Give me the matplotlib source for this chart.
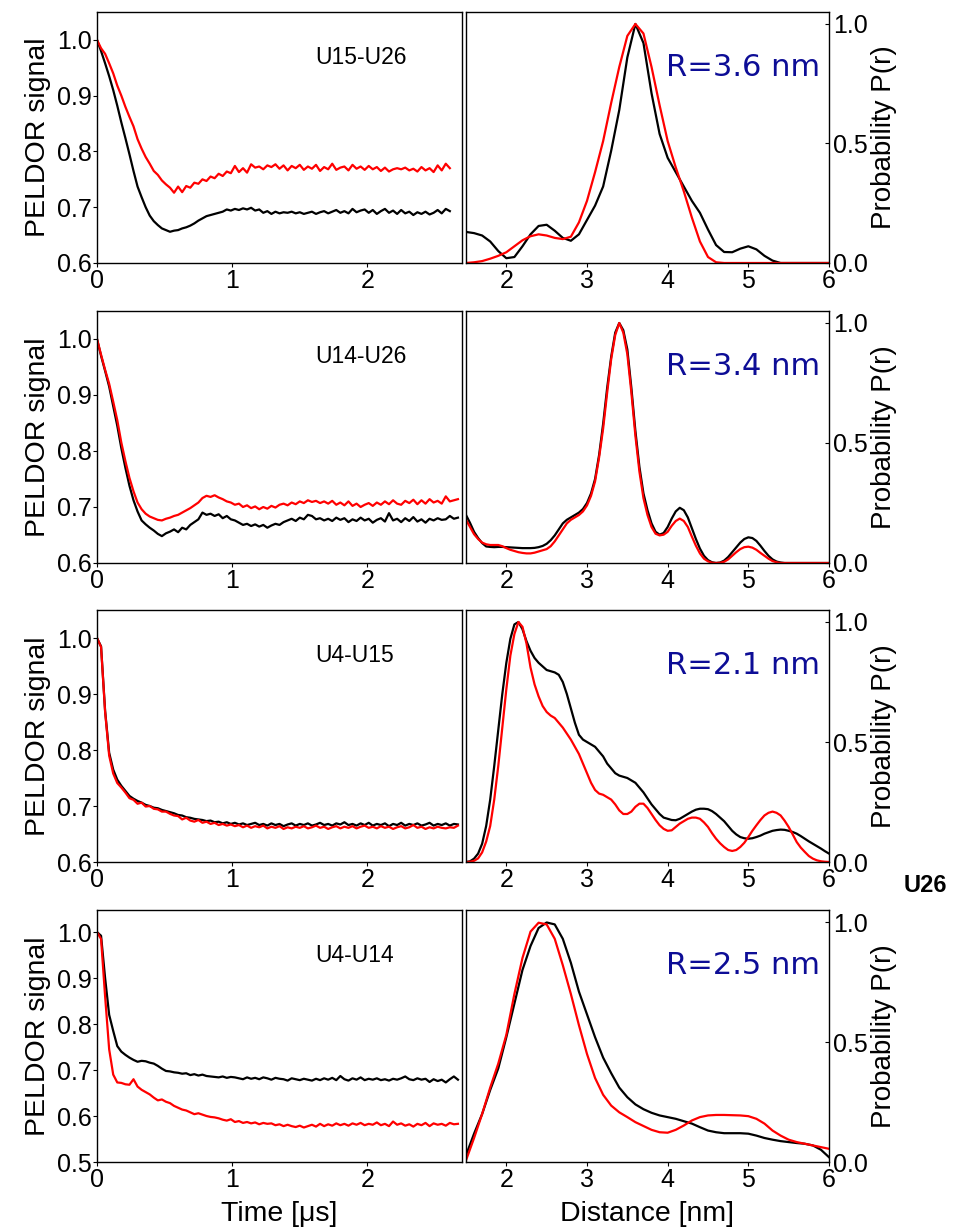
#!/usr/bin/env python

"""
PELDOR time traces and distance distributions for four spin-label pairs.
"""

import numpy as np
import matplotlib.pyplot as plt

# time axis of the PELDOR traces (us)
time_us = np.round(np.arange(0, 2.68, 0.03), 2)
# distance axes of the distributions (nm)
dist_coarse = np.round(np.arange(1.5, 6.01, 0.1), 2)
dist_fine = np.round(np.arange(1.5, 6.001, 0.05), 2)

pairs = ["U15-U26", "U14-U26", "U4-U15", "U4-U14"]
mean_dist = ["R=3.6 nm", "R=3.4 nm", "R=2.1 nm", "R=2.5 nm"]

# PELDOR signal, black and red traces
sig_u15_u26_black = [
    1.000, 0.980, 0.958, 0.935, 0.910, 0.882, 0.852, 0.824, 0.795, 0.765,
    0.737, 0.718, 0.700, 0.685, 0.675, 0.668, 0.662, 0.659, 0.656, 0.658,
    0.659, 0.662, 0.664, 0.667, 0.671, 0.676, 0.680, 0.684, 0.686, 0.688,
    0.690, 0.692, 0.696, 0.694, 0.697, 0.695, 0.698, 0.696, 0.699, 0.694,
    0.696, 0.690, 0.693, 0.688, 0.692, 0.689, 0.691, 0.690, 0.692, 0.689,
    0.691, 0.688, 0.690, 0.692, 0.688, 0.691, 0.693, 0.689, 0.692, 0.695,
    0.690, 0.693, 0.689, 0.697, 0.691, 0.694, 0.696, 0.690, 0.695, 0.688,
    0.693, 0.697, 0.690, 0.694, 0.688, 0.695, 0.689, 0.692, 0.686, 0.691,
    0.688, 0.692, 0.687, 0.690, 0.695, 0.689, 0.697, 0.693]
sig_u15_u26_red = [
    1.000, 0.985, 0.975, 0.958, 0.940, 0.918, 0.900, 0.880, 0.862, 0.845,
    0.822, 0.805, 0.790, 0.778, 0.765, 0.758, 0.748, 0.741, 0.735, 0.726,
    0.737, 0.727, 0.738, 0.735, 0.744, 0.742, 0.750, 0.747, 0.755, 0.752,
    0.760, 0.756, 0.764, 0.761, 0.774, 0.763, 0.770, 0.762, 0.777, 0.771,
    0.773, 0.768, 0.775, 0.772, 0.777, 0.769, 0.775, 0.766, 0.774, 0.770,
    0.776, 0.767, 0.773, 0.769, 0.776, 0.765, 0.772, 0.768, 0.778, 0.767,
    0.771, 0.773, 0.766, 0.776, 0.769, 0.773, 0.767, 0.774, 0.768, 0.772,
    0.765, 0.771, 0.764, 0.768, 0.770, 0.768, 0.771, 0.766, 0.769, 0.764,
    0.772, 0.766, 0.770, 0.763, 0.775, 0.766, 0.778, 0.770]

sig_u14_u26_black = [
    1.000, 0.970, 0.943, 0.915, 0.880, 0.845, 0.805, 0.770, 0.738, 0.712,
    0.692, 0.676, 0.669, 0.663, 0.658, 0.652, 0.648, 0.653, 0.656, 0.660,
    0.655, 0.663, 0.660, 0.668, 0.673, 0.678, 0.690, 0.686, 0.688, 0.684,
    0.687, 0.680, 0.684, 0.678, 0.676, 0.672, 0.668, 0.670, 0.666, 0.669,
    0.665, 0.668, 0.663, 0.667, 0.670, 0.668, 0.673, 0.676, 0.679, 0.675,
    0.681, 0.678, 0.686, 0.684, 0.678, 0.680, 0.676, 0.679, 0.675, 0.681,
    0.677, 0.680, 0.673, 0.678, 0.675, 0.681, 0.676, 0.679, 0.672, 0.677,
    0.680, 0.674, 0.689, 0.676, 0.679, 0.673, 0.680, 0.675, 0.682, 0.674,
    0.678, 0.672, 0.679, 0.676, 0.680, 0.677, 0.678, 0.684, 0.679, 0.681]
sig_u14_u26_red = [
    1.000, 0.972, 0.945, 0.920, 0.888, 0.855, 0.815, 0.782, 0.752, 0.728,
    0.708, 0.696, 0.688, 0.683, 0.680, 0.677, 0.676, 0.679, 0.681, 0.684,
    0.686, 0.690, 0.694, 0.698, 0.703, 0.708, 0.716, 0.720, 0.718, 0.721,
    0.717, 0.714, 0.710, 0.708, 0.704, 0.706, 0.700, 0.703, 0.698, 0.701,
    0.696, 0.700, 0.697, 0.702, 0.699, 0.704, 0.706, 0.703, 0.708, 0.705,
    0.710, 0.707, 0.712, 0.709, 0.711, 0.707, 0.710, 0.706, 0.711, 0.704,
    0.708, 0.703, 0.710, 0.702, 0.706, 0.700, 0.704, 0.707, 0.702, 0.708,
    0.704, 0.710, 0.705, 0.712, 0.706, 0.704, 0.711, 0.707, 0.713, 0.705,
    0.712, 0.706, 0.714, 0.708, 0.711, 0.706, 0.719, 0.710, 0.712, 0.714]

sig_u4_u15_black = [
    1.000, 0.985, 0.870, 0.795, 0.765, 0.747, 0.736, 0.727, 0.718, 0.713,
    0.709, 0.706, 0.702, 0.700, 0.697, 0.696, 0.693, 0.691, 0.689, 0.687,
    0.684, 0.683, 0.680, 0.679, 0.677, 0.676, 0.675, 0.673, 0.674, 0.671,
    0.672, 0.669, 0.671, 0.668, 0.670, 0.667, 0.669, 0.666, 0.668, 0.670,
    0.666, 0.668, 0.665, 0.669, 0.666, 0.668, 0.664, 0.667, 0.669, 0.665,
    0.668, 0.666, 0.669, 0.665, 0.667, 0.670, 0.666, 0.668, 0.665, 0.669,
    0.667, 0.671, 0.666, 0.668, 0.665, 0.669, 0.666, 0.670, 0.665, 0.668,
    0.666, 0.669, 0.664, 0.668, 0.666, 0.670, 0.665, 0.668, 0.666, 0.669,
    0.665, 0.667, 0.670, 0.665, 0.668, 0.666, 0.669, 0.665, 0.668, 0.667]
sig_u4_u15_red = [
    1.000, 0.984, 0.868, 0.790, 0.758, 0.741, 0.733, 0.724, 0.714, 0.711,
    0.704, 0.706, 0.699, 0.700, 0.695, 0.694, 0.690, 0.690, 0.686, 0.683,
    0.682, 0.676, 0.679, 0.674, 0.672, 0.675, 0.670, 0.672, 0.668, 0.670,
    0.666, 0.668, 0.665, 0.667, 0.664, 0.666, 0.662, 0.665, 0.661, 0.664,
    0.662, 0.665, 0.660, 0.663, 0.661, 0.664, 0.659, 0.662, 0.660, 0.663,
    0.661, 0.664, 0.660, 0.662, 0.665, 0.661, 0.663, 0.659, 0.662, 0.664,
    0.660, 0.663, 0.661, 0.664, 0.660, 0.663, 0.665, 0.661, 0.663, 0.660,
    0.664, 0.661, 0.663, 0.659, 0.662, 0.664, 0.660, 0.662, 0.666, 0.661,
    0.663, 0.659, 0.662, 0.660, 0.663, 0.661, 0.660, 0.662, 0.661, 0.665]

sig_u4_u14_black = [
    1.000, 0.992, 0.900, 0.820, 0.785, 0.752, 0.740, 0.733, 0.727, 0.722,
    0.718, 0.720, 0.719, 0.716, 0.714, 0.709, 0.703, 0.698, 0.697, 0.695,
    0.694, 0.692, 0.693, 0.689, 0.691, 0.688, 0.690, 0.687, 0.686, 0.685,
    0.684, 0.686, 0.683, 0.685, 0.684, 0.682, 0.680, 0.684, 0.681, 0.683,
    0.680, 0.684, 0.682, 0.679, 0.683, 0.681, 0.680, 0.677, 0.682, 0.680,
    0.678, 0.681, 0.679, 0.677, 0.681, 0.678, 0.682, 0.679, 0.683, 0.678,
    0.687, 0.680, 0.677, 0.682, 0.679, 0.684, 0.678, 0.681, 0.679, 0.682,
    0.678, 0.680, 0.677, 0.681, 0.679, 0.682, 0.686, 0.680, 0.678, 0.682,
    0.679, 0.681, 0.674, 0.680, 0.676, 0.679, 0.673, 0.680, 0.686, 0.679]
sig_u4_u14_red = [
    1.000, 0.985, 0.860, 0.745, 0.690, 0.673, 0.672, 0.669, 0.668, 0.680,
    0.664, 0.657, 0.652, 0.647, 0.640, 0.634, 0.636, 0.631, 0.628, 0.622,
    0.618, 0.614, 0.612, 0.608, 0.604, 0.606, 0.603, 0.600, 0.598, 0.597,
    0.595, 0.592, 0.590, 0.593, 0.587, 0.589, 0.585, 0.587, 0.584, 0.586,
    0.582, 0.585, 0.583, 0.584, 0.580, 0.582, 0.578, 0.581, 0.578, 0.576,
    0.579, 0.575, 0.578, 0.581, 0.577, 0.583, 0.578, 0.582, 0.579, 0.584,
    0.580, 0.583, 0.579, 0.584, 0.581, 0.585, 0.580, 0.583, 0.581, 0.586,
    0.580, 0.583, 0.578, 0.588, 0.581, 0.584, 0.579, 0.582, 0.577, 0.583,
    0.580, 0.585, 0.578, 0.584, 0.581, 0.583, 0.579, 0.585, 0.582, 0.583]

# distance distributions P(r), black and red
# U15-U26 and U4-U14 on the 0.1 nm grid
p_u15_u26_black = [
    0.13, 0.125, 0.115, 0.09, 0.05, 0.02, 0.025, 0.07, 0.12, 0.155,
    0.16, 0.135, 0.105, 0.093, 0.12, 0.18, 0.24, 0.32, 0.47, 0.64,
    0.86, 1.0, 0.92, 0.71, 0.54, 0.44, 0.38, 0.32, 0.26, 0.21,
    0.14, 0.075, 0.046, 0.045, 0.06, 0.07, 0.057, 0.03, 0.01, 0.0,
    0.0, 0.0, 0.0, 0.0, 0.0, 0.0]
p_u15_u26_red = [
    0.0, 0.003, 0.008, 0.018, 0.03, 0.045, 0.07, 0.095, 0.112, 0.12,
    0.115, 0.105, 0.1, 0.11, 0.17, 0.26, 0.38, 0.51, 0.67, 0.82,
    0.95, 1.0, 0.96, 0.82, 0.66, 0.51, 0.4, 0.3, 0.19, 0.09,
    0.025, 0.003, 0.0, 0.0, 0.0, 0.0, 0.0, 0.0, 0.0, 0.0,
    0.0, 0.0, 0.0, 0.0, 0.0, 0.0]

p_u4_u14_black = [
    0.028, 0.118, 0.2, 0.3, 0.39, 0.52, 0.66, 0.8, 0.9, 0.975,
    0.998, 0.99, 0.93, 0.83, 0.71, 0.615, 0.52, 0.435, 0.37, 0.31,
    0.27, 0.24, 0.22, 0.205, 0.194, 0.187, 0.18, 0.17, 0.16, 0.145,
    0.131, 0.124, 0.12, 0.12, 0.12, 0.118, 0.11, 0.1, 0.093, 0.087,
    0.083, 0.079, 0.076, 0.069, 0.051, 0.02]
p_u4_u14_red = [
    0.007, 0.1, 0.2, 0.31, 0.41, 0.53, 0.7, 0.85, 0.96, 0.997,
    0.99, 0.93, 0.82, 0.7, 0.57, 0.45, 0.35, 0.28, 0.235, 0.207,
    0.187, 0.166, 0.15, 0.134, 0.124, 0.122, 0.134, 0.152, 0.173, 0.187,
    0.194, 0.196, 0.196, 0.195, 0.194, 0.191, 0.18, 0.16, 0.131, 0.11,
    0.093, 0.083, 0.076, 0.069, 0.062, 0.055]

# U14-U26 and U4-U15 on the 0.05 nm grid
p_u14_u26_black = [
    0.2, 0.167, 0.13, 0.104, 0.083, 0.069, 0.067, 0.066, 0.067, 0.067,
    0.066, 0.065, 0.064, 0.063, 0.062, 0.062, 0.062, 0.063, 0.066, 0.071,
    0.08, 0.095, 0.115, 0.14, 0.165, 0.18, 0.19, 0.2, 0.21, 0.225,
    0.25, 0.29, 0.35, 0.45, 0.58, 0.73, 0.86, 0.96, 1.0, 0.97,
    0.89, 0.73, 0.55, 0.4, 0.29, 0.22, 0.165, 0.13, 0.118, 0.125,
    0.15, 0.185, 0.215, 0.23, 0.22, 0.19, 0.145, 0.1, 0.06, 0.03,
    0.012, 0.003, 0.0, 0.002, 0.01, 0.025, 0.045, 0.065, 0.085, 0.1,
    0.107, 0.104, 0.092, 0.072, 0.05, 0.03, 0.015, 0.006, 0.002, 0.0,
    0.0, 0.0, 0.0, 0.0, 0.0, 0.0, 0.0, 0.0, 0.0, 0.0,
    0.0]
p_u14_u26_red = [
    0.18, 0.15, 0.12, 0.1, 0.085, 0.078, 0.075, 0.075, 0.075, 0.07,
    0.062, 0.055, 0.05, 0.045, 0.042, 0.04, 0.04, 0.043, 0.048, 0.053,
    0.058, 0.07, 0.09, 0.115, 0.14, 0.165, 0.18, 0.19, 0.2, 0.215,
    0.24, 0.28, 0.34, 0.44, 0.56, 0.71, 0.85, 0.95, 1.0, 0.96,
    0.87, 0.71, 0.53, 0.38, 0.27, 0.2, 0.15, 0.122, 0.115, 0.118,
    0.13, 0.155, 0.175, 0.185, 0.175, 0.15, 0.11, 0.072, 0.04, 0.018,
    0.007, 0.001, 0.0, 0.001, 0.005, 0.015, 0.03, 0.045, 0.058, 0.066,
    0.068, 0.064, 0.055, 0.042, 0.03, 0.018, 0.008, 0.003, 0.0, 0.0,
    0.0, 0.0, 0.0, 0.0, 0.0, 0.0, 0.0, 0.0, 0.0, 0.0,
    0.0]

p_u4_u15_black = [
    0.0, 0.003, 0.014, 0.035, 0.076, 0.15, 0.26, 0.4, 0.55, 0.7,
    0.83, 0.93, 0.99, 1.0, 0.97, 0.92, 0.88, 0.85, 0.83, 0.815,
    0.8, 0.795, 0.79, 0.78, 0.75, 0.7, 0.64, 0.58, 0.53, 0.51,
    0.5, 0.49, 0.48, 0.46, 0.44, 0.41, 0.39, 0.37, 0.36, 0.355,
    0.35, 0.34, 0.33, 0.31, 0.29, 0.265, 0.24, 0.22, 0.2, 0.185,
    0.18, 0.175, 0.174, 0.18, 0.19, 0.2, 0.21, 0.218, 0.222, 0.222,
    0.22, 0.212, 0.2, 0.185, 0.17, 0.15, 0.13, 0.115, 0.104, 0.099,
    0.097, 0.099, 0.104, 0.11, 0.118, 0.124, 0.13, 0.133, 0.135, 0.134,
    0.13, 0.125, 0.118, 0.108, 0.097, 0.086, 0.076, 0.066, 0.056, 0.045,
    0.035]
p_u4_u15_red = [
    0.0, 0.001, 0.005, 0.015, 0.04, 0.085, 0.15, 0.26, 0.4, 0.56,
    0.72, 0.86, 0.95, 1.0, 0.98, 0.91, 0.81, 0.74, 0.69, 0.65,
    0.625, 0.61, 0.6, 0.58, 0.56, 0.535, 0.51, 0.48, 0.45, 0.41,
    0.37, 0.33, 0.3, 0.285, 0.28, 0.27, 0.26, 0.24, 0.215, 0.2,
    0.2, 0.21, 0.23, 0.243, 0.243, 0.225, 0.2, 0.175, 0.153, 0.138,
    0.13, 0.132, 0.146, 0.16, 0.17, 0.18, 0.185, 0.185, 0.18, 0.165,
    0.146, 0.12, 0.097, 0.078, 0.0625, 0.05, 0.046, 0.05, 0.0625, 0.08,
    0.104, 0.13, 0.153, 0.175, 0.194, 0.205, 0.21, 0.205, 0.194, 0.172,
    0.146, 0.115, 0.083, 0.06, 0.042, 0.025, 0.014, 0.007, 0.003, 0.001,
    0.0]

signals = [
    (sig_u15_u26_black, sig_u15_u26_red),
    (sig_u14_u26_black, sig_u14_u26_red),
    (sig_u4_u15_black, sig_u4_u15_red),
    (sig_u4_u14_black, sig_u4_u14_red),
]
distributions = [
    (dist_coarse, p_u15_u26_black, p_u15_u26_red),
    (dist_fine, p_u14_u26_black, p_u14_u26_red),
    (dist_fine, p_u4_u15_black, p_u4_u15_red),
    (dist_coarse, p_u4_u14_black, p_u4_u14_red),
]
signal_ylims = [(0.6, 1.05), (0.6, 1.05), (0.6, 1.05), (0.5, 1.048)]
signal_yticks = [
    [0.6, 0.7, 0.8, 0.9, 1.0],
    [0.6, 0.7, 0.8, 0.9, 1.0],
    [0.6, 0.7, 0.8, 0.9, 1.0],
    [0.5, 0.6, 0.7, 0.8, 0.9, 1.0],
]


def main():
    plt.rcParams['font.family'] = ['Liberation Sans', 'DejaVu Sans']
    fig = plt.figure(figsize=(9.58, 12.29), dpi=100)

    W, H = 958.0, 1229.0
    row_px = [(12, 263), (311, 563), (610, 862), (910, 1162)]
    lw = 1.6

    for i, (top, bot) in enumerate(row_px):
        y0 = 1 - bot / H
        h = (bot - top) / H
        ax_l = fig.add_axes([97 / W, y0, (462 - 97) / W, h])
        ax_r = fig.add_axes([466 / W, y0, (829 - 466) / W, h])

        black, red = signals[i]
        ax_l.plot(time_us[:len(black)], black, color='black', lw=lw)
        ax_l.plot(time_us[:len(red)], red, color='red', lw=lw)
        ax_l.set_xlim(0, 2.7)
        ax_l.set_ylim(*signal_ylims[i])
        ax_l.set_xticks([0, 1, 2])
        ax_l.set_yticks(signal_yticks[i])
        ax_l.yaxis.set_major_formatter(plt.FormatStrFormatter('%.1f'))
        ax_l.set_ylabel("PELDOR signal", fontsize=20.5, labelpad=4)
        ax_l.tick_params(labelsize=18, length=3, width=0.8, pad=1)
        ax_l.text(0.597, 0.82, pairs[i], transform=ax_l.transAxes,
                  fontsize=16.5, ha='left', va='center')

        r, pb, pr = distributions[i]
        ax_r.plot(r, pb, color='black', lw=lw)
        ax_r.plot(r, pr, color='red', lw=lw)
        ax_r.set_xlim(1.5, 6)
        ax_r.set_ylim(0, 1.05)
        ax_r.set_xticks([2, 3, 4, 5, 6])
        ax_r.set_yticks([0.0, 0.5, 1.0])
        ax_r.yaxis.set_major_formatter(plt.FormatStrFormatter('%.1f'))
        ax_r.yaxis.tick_right()
        ax_r.yaxis.set_label_position('right')
        ax_r.set_ylabel("Probability P(r)", fontsize=20, labelpad=2)
        ax_r.tick_params(labelsize=18, length=3, width=0.8, pad=1)
        ax_r.tick_params(axis='y', direction='in', pad=3)
        ax_r.text(0.975, 0.78, mean_dist[i], transform=ax_r.transAxes,
                  fontsize=22, color='#0d0d96', ha='right', va='center',
                  family='DejaVu Sans')

        for ax in (ax_l, ax_r):
            for sp in ax.spines.values():
                sp.set_linewidth(1.0)

        if i == len(row_px) - 1:
            ax_l.set_xlabel("Time [μs]", fontsize=20.5, labelpad=7)
            ax_r.set_xlabel("Distance [nm]", fontsize=20.5, labelpad=7)

    fig.text(925 / W, 1 - 885 / H, "U26", fontsize=17, fontweight='bold',
             ha='center', va='center')

    plt.savefig("out.png", dpi=100)


if __name__ == "__main__":
    main()
